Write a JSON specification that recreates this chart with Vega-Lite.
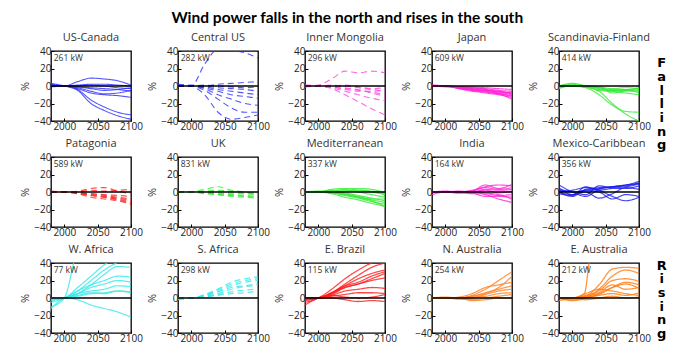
{
"$schema": "https://vega.github.io/schema/vega-lite/v6.json",
"title": {"text": "Wind power falls in the north and rises in the south", "font": "Lato", "fontSize": 15.5, "fontWeight": "bold", "color": "#000", "anchor": "middle", "offset": 5, "dx": 4},
"padding": {"left": 19, "top": 10, "right": 5, "bottom": 5},
"datasets": {
"panels": [
{"p":1,"n":"US-Canada","kw":"261 kW"},
{"p":2,"n":"Central US","kw":"282 kW"},
{"p":3,"n":"Inner Mongolia","kw":"296 kW"},
{"p":4,"n":"Japan","kw":"609 kW"},
{"p":5,"n":"Scandinavia-Finland","kw":"414 kW"},
{"p":6,"n":"Patagonia","kw":"589 kW"},
{"p":7,"n":"UK","kw":"831 kW"},
{"p":8,"n":"Mediterranean","kw":"337 kW"},
{"p":9,"n":"India","kw":"164 kW"},
{"p":10,"n":"Mexico-Caribbean","kw":"356 kW"},
{"p":11,"n":"W. Africa","kw":"77 kW"},
{"p":12,"n":"S. Africa","kw":"298 kW"},
{"p":13,"n":"E. Brazil","kw":"115 kW"},
{"p":14,"n":"N. Australia","kw":"254 kW"},
{"p":15,"n":"E. Australia","kw":"212 kW"}
],
"pts": [
{"p":1,"l":1,"x":1980,"y":2},{"p":1,"l":1,"x":2000,"y":0},{"p":1,"l":1,"x":2020,"y":5},{"p":1,"l":1,"x":2040,"y":9},{"p":1,"l":1,"x":2060,"y":8},{"p":1,"l":1,"x":2080,"y":6},{"p":1,"l":1,"x":2100,"y":1},
{"p":1,"l":2,"x":1980,"y":3},{"p":1,"l":2,"x":2000,"y":0},{"p":1,"l":2,"x":2020,"y":-5},{"p":1,"l":2,"x":2040,"y":-20},{"p":1,"l":2,"x":2060,"y":-28},{"p":1,"l":2,"x":2080,"y":-34},{"p":1,"l":2,"x":2100,"y":-38},
{"p":1,"l":3,"x":1980,"y":1},{"p":1,"l":3,"x":2000,"y":0},{"p":1,"l":3,"x":2020,"y":-4},{"p":1,"l":3,"x":2040,"y":-16},{"p":1,"l":3,"x":2060,"y":-24},{"p":1,"l":3,"x":2080,"y":-30},{"p":1,"l":3,"x":2100,"y":-33},
{"p":1,"l":4,"x":1980,"y":0},{"p":1,"l":4,"x":2000,"y":0},{"p":1,"l":4,"x":2020,"y":-3},{"p":1,"l":4,"x":2040,"y":-8},{"p":1,"l":4,"x":2060,"y":-10},{"p":1,"l":4,"x":2080,"y":-11},{"p":1,"l":4,"x":2100,"y":-13},
{"p":1,"l":5,"x":1980,"y":0},{"p":1,"l":5,"x":2000,"y":0},{"p":1,"l":5,"x":2020,"y":-2},{"p":1,"l":5,"x":2040,"y":-6},{"p":1,"l":5,"x":2060,"y":-9},{"p":1,"l":5,"x":2080,"y":-8},{"p":1,"l":5,"x":2100,"y":-5},
{"p":1,"l":6,"x":1980,"y":1},{"p":1,"l":6,"x":2000,"y":0},{"p":1,"l":6,"x":2020,"y":-1},{"p":1,"l":6,"x":2040,"y":-2},{"p":1,"l":6,"x":2060,"y":-3},{"p":1,"l":6,"x":2080,"y":-4},{"p":1,"l":6,"x":2100,"y":-6},
{"p":1,"l":7,"x":1980,"y":0},{"p":1,"l":7,"x":2000,"y":0},{"p":1,"l":7,"x":2020,"y":0},{"p":1,"l":7,"x":2040,"y":1},{"p":1,"l":7,"x":2060,"y":0},{"p":1,"l":7,"x":2080,"y":-2},{"p":1,"l":7,"x":2100,"y":-3},
{"p":1,"l":8,"x":1980,"y":-1},{"p":1,"l":8,"x":2000,"y":0},{"p":1,"l":8,"x":2020,"y":1},{"p":1,"l":8,"x":2040,"y":2},{"p":1,"l":8,"x":2060,"y":2},{"p":1,"l":8,"x":2080,"y":1},{"p":1,"l":8,"x":2100,"y":0},
{"p":1,"l":9,"x":1980,"y":0},{"p":1,"l":9,"x":2000,"y":0},{"p":1,"l":9,"x":2020,"y":-1},{"p":1,"l":9,"x":2040,"y":-3},{"p":1,"l":9,"x":2060,"y":-5},{"p":1,"l":9,"x":2080,"y":-4},{"p":1,"l":9,"x":2100,"y":-2},
{"p":2,"l":1,"x":1980,"y":0},{"p":2,"l":1,"x":2000,"y":0},{"p":2,"l":1,"x":2020,"y":25},{"p":2,"l":1,"x":2040,"y":42},{"p":2,"l":1,"x":2060,"y":41},{"p":2,"l":1,"x":2080,"y":38},{"p":2,"l":1,"x":2100,"y":32},
{"p":2,"l":2,"x":1980,"y":2},{"p":2,"l":2,"x":2000,"y":0},{"p":2,"l":2,"x":2020,"y":-10},{"p":2,"l":2,"x":2040,"y":-30},{"p":2,"l":2,"x":2060,"y":-38},{"p":2,"l":2,"x":2080,"y":-36},{"p":2,"l":2,"x":2100,"y":-33},
{"p":2,"l":3,"x":1980,"y":1},{"p":2,"l":3,"x":2000,"y":0},{"p":2,"l":3,"x":2020,"y":-5},{"p":2,"l":3,"x":2040,"y":-15},{"p":2,"l":3,"x":2060,"y":-25},{"p":2,"l":3,"x":2080,"y":-30},{"p":2,"l":3,"x":2100,"y":-30},
{"p":2,"l":4,"x":1980,"y":0},{"p":2,"l":4,"x":2000,"y":0},{"p":2,"l":4,"x":2020,"y":-3},{"p":2,"l":4,"x":2040,"y":-10},{"p":2,"l":4,"x":2060,"y":-15},{"p":2,"l":4,"x":2080,"y":-20},{"p":2,"l":4,"x":2100,"y":-22},
{"p":2,"l":5,"x":1980,"y":0},{"p":2,"l":5,"x":2000,"y":0},{"p":2,"l":5,"x":2020,"y":-2},{"p":2,"l":5,"x":2040,"y":-6},{"p":2,"l":5,"x":2060,"y":-10},{"p":2,"l":5,"x":2080,"y":-12},{"p":2,"l":5,"x":2100,"y":-14},
{"p":2,"l":6,"x":1980,"y":1},{"p":2,"l":6,"x":2000,"y":0},{"p":2,"l":6,"x":2020,"y":-1},{"p":2,"l":6,"x":2040,"y":-4},{"p":2,"l":6,"x":2060,"y":-6},{"p":2,"l":6,"x":2080,"y":-8},{"p":2,"l":6,"x":2100,"y":-10},
{"p":2,"l":7,"x":1980,"y":0},{"p":2,"l":7,"x":2000,"y":0},{"p":2,"l":7,"x":2020,"y":0},{"p":2,"l":7,"x":2040,"y":-2},{"p":2,"l":7,"x":2060,"y":-3},{"p":2,"l":7,"x":2080,"y":-4},{"p":2,"l":7,"x":2100,"y":-6},
{"p":2,"l":8,"x":1980,"y":0},{"p":2,"l":8,"x":2000,"y":0},{"p":2,"l":8,"x":2020,"y":1},{"p":2,"l":8,"x":2040,"y":0},{"p":2,"l":8,"x":2060,"y":-1},{"p":2,"l":8,"x":2080,"y":-2},{"p":2,"l":8,"x":2100,"y":-1},
{"p":2,"l":9,"x":1980,"y":0},{"p":2,"l":9,"x":2000,"y":1},{"p":2,"l":9,"x":2020,"y":0},{"p":2,"l":9,"x":2040,"y":2},{"p":2,"l":9,"x":2060,"y":3},{"p":2,"l":9,"x":2080,"y":4},{"p":2,"l":9,"x":2100,"y":5},
{"p":3,"l":1,"x":1980,"y":0},{"p":3,"l":1,"x":2000,"y":1},{"p":3,"l":1,"x":2020,"y":8},{"p":3,"l":1,"x":2040,"y":17},{"p":3,"l":1,"x":2060,"y":15},{"p":3,"l":1,"x":2080,"y":17},{"p":3,"l":1,"x":2100,"y":15},
{"p":3,"l":2,"x":1980,"y":1},{"p":3,"l":2,"x":2000,"y":0},{"p":3,"l":2,"x":2020,"y":-3},{"p":3,"l":2,"x":2040,"y":-10},{"p":3,"l":2,"x":2060,"y":-18},{"p":3,"l":2,"x":2080,"y":-26},{"p":3,"l":2,"x":2100,"y":-33},
{"p":3,"l":3,"x":1980,"y":0},{"p":3,"l":3,"x":2000,"y":0},{"p":3,"l":3,"x":2020,"y":-2},{"p":3,"l":3,"x":2040,"y":-6},{"p":3,"l":3,"x":2060,"y":-10},{"p":3,"l":3,"x":2080,"y":-14},{"p":3,"l":3,"x":2100,"y":-17},
{"p":3,"l":4,"x":1980,"y":0},{"p":3,"l":4,"x":2000,"y":0},{"p":3,"l":4,"x":2020,"y":0},{"p":3,"l":4,"x":2040,"y":-2},{"p":3,"l":4,"x":2060,"y":-5},{"p":3,"l":4,"x":2080,"y":-7},{"p":3,"l":4,"x":2100,"y":-10},
{"p":3,"l":5,"x":1980,"y":1},{"p":3,"l":5,"x":2000,"y":0},{"p":3,"l":5,"x":2020,"y":-1},{"p":3,"l":5,"x":2040,"y":-4},{"p":3,"l":5,"x":2060,"y":-6},{"p":3,"l":5,"x":2080,"y":-6},{"p":3,"l":5,"x":2100,"y":-5},
{"p":3,"l":6,"x":1980,"y":0},{"p":3,"l":6,"x":2000,"y":0},{"p":3,"l":6,"x":2020,"y":1},{"p":3,"l":6,"x":2040,"y":0},{"p":3,"l":6,"x":2060,"y":-2},{"p":3,"l":6,"x":2080,"y":-4},{"p":3,"l":6,"x":2100,"y":-6},
{"p":3,"l":7,"x":1980,"y":-1},{"p":3,"l":7,"x":2000,"y":0},{"p":3,"l":7,"x":2020,"y":0},{"p":3,"l":7,"x":2040,"y":1},{"p":3,"l":7,"x":2060,"y":-1},{"p":3,"l":7,"x":2080,"y":-3},{"p":3,"l":7,"x":2100,"y":-2},
{"p":3,"l":8,"x":1980,"y":0},{"p":3,"l":8,"x":2000,"y":0},{"p":3,"l":8,"x":2020,"y":-1},{"p":3,"l":8,"x":2040,"y":-3},{"p":3,"l":8,"x":2060,"y":-4},{"p":3,"l":8,"x":2080,"y":-8},{"p":3,"l":8,"x":2100,"y":-12},
{"p":4,"l":1,"x":1980,"y":0},{"p":4,"l":1,"x":2000,"y":0},{"p":4,"l":1,"x":2020,"y":-3},{"p":4,"l":1,"x":2040,"y":-5},{"p":4,"l":1,"x":2060,"y":-8},{"p":4,"l":1,"x":2080,"y":-10},{"p":4,"l":1,"x":2100,"y":-13},
{"p":4,"l":2,"x":1980,"y":0},{"p":4,"l":2,"x":2000,"y":0},{"p":4,"l":2,"x":2020,"y":-2},{"p":4,"l":2,"x":2040,"y":-4},{"p":4,"l":2,"x":2060,"y":-6},{"p":4,"l":2,"x":2080,"y":-9},{"p":4,"l":2,"x":2100,"y":-15},
{"p":4,"l":3,"x":1980,"y":0},{"p":4,"l":3,"x":2000,"y":0},{"p":4,"l":3,"x":2020,"y":-1},{"p":4,"l":3,"x":2040,"y":-3},{"p":4,"l":3,"x":2060,"y":-5},{"p":4,"l":3,"x":2080,"y":-6},{"p":4,"l":3,"x":2100,"y":-8},
{"p":4,"l":4,"x":1980,"y":0},{"p":4,"l":4,"x":2000,"y":0},{"p":4,"l":4,"x":2020,"y":-2},{"p":4,"l":4,"x":2040,"y":-3},{"p":4,"l":4,"x":2060,"y":-4},{"p":4,"l":4,"x":2080,"y":-7},{"p":4,"l":4,"x":2100,"y":-10},
{"p":4,"l":5,"x":1980,"y":1},{"p":4,"l":5,"x":2000,"y":0},{"p":4,"l":5,"x":2020,"y":-1},{"p":4,"l":5,"x":2040,"y":-2},{"p":4,"l":5,"x":2060,"y":-3},{"p":4,"l":5,"x":2080,"y":-5},{"p":4,"l":5,"x":2100,"y":-6},
{"p":4,"l":6,"x":1980,"y":0},{"p":4,"l":6,"x":2000,"y":0},{"p":4,"l":6,"x":2020,"y":-3},{"p":4,"l":6,"x":2040,"y":-6},{"p":4,"l":6,"x":2060,"y":-7},{"p":4,"l":6,"x":2080,"y":-9},{"p":4,"l":6,"x":2100,"y":-11},
{"p":4,"l":7,"x":1980,"y":0},{"p":4,"l":7,"x":2000,"y":0},{"p":4,"l":7,"x":2020,"y":-1},{"p":4,"l":7,"x":2040,"y":-2},{"p":4,"l":7,"x":2060,"y":-4},{"p":4,"l":7,"x":2080,"y":-8},{"p":4,"l":7,"x":2100,"y":-12},
{"p":4,"l":8,"x":1980,"y":0},{"p":4,"l":8,"x":2000,"y":-1},{"p":4,"l":8,"x":2020,"y":-2},{"p":4,"l":8,"x":2040,"y":-4},{"p":4,"l":8,"x":2060,"y":-5},{"p":4,"l":8,"x":2080,"y":-6},{"p":4,"l":8,"x":2100,"y":-9},
{"p":4,"l":9,"x":1980,"y":0},{"p":4,"l":9,"x":2000,"y":0},{"p":4,"l":9,"x":2020,"y":-1},{"p":4,"l":9,"x":2040,"y":-1},{"p":4,"l":9,"x":2060,"y":-2},{"p":4,"l":9,"x":2080,"y":-3},{"p":4,"l":9,"x":2100,"y":-4},
{"p":4,"l":10,"x":1980,"y":1},{"p":4,"l":10,"x":2000,"y":0},{"p":4,"l":10,"x":2020,"y":-2},{"p":4,"l":10,"x":2040,"y":-5},{"p":4,"l":10,"x":2060,"y":-6},{"p":4,"l":10,"x":2080,"y":-8},{"p":4,"l":10,"x":2100,"y":-7},
{"p":5,"l":1,"x":1980,"y":0},{"p":5,"l":1,"x":2000,"y":2},{"p":5,"l":1,"x":2020,"y":-1},{"p":5,"l":1,"x":2040,"y":-6},{"p":5,"l":1,"x":2060,"y":-20},{"p":5,"l":1,"x":2080,"y":-32},{"p":5,"l":1,"x":2100,"y":-40},
{"p":5,"l":2,"x":1980,"y":0},{"p":5,"l":2,"x":2000,"y":0},{"p":5,"l":2,"x":2020,"y":-2},{"p":5,"l":2,"x":2040,"y":-10},{"p":5,"l":2,"x":2060,"y":-22},{"p":5,"l":2,"x":2080,"y":-29},{"p":5,"l":2,"x":2100,"y":-30},
{"p":5,"l":3,"x":1980,"y":0},{"p":5,"l":3,"x":2000,"y":0},{"p":5,"l":3,"x":2020,"y":0},{"p":5,"l":3,"x":2040,"y":-3},{"p":5,"l":3,"x":2060,"y":-6},{"p":5,"l":3,"x":2080,"y":-8},{"p":5,"l":3,"x":2100,"y":-10},
{"p":5,"l":4,"x":1980,"y":-3},{"p":5,"l":4,"x":2000,"y":1},{"p":5,"l":4,"x":2020,"y":0},{"p":5,"l":4,"x":2040,"y":-2},{"p":5,"l":4,"x":2060,"y":-5},{"p":5,"l":4,"x":2080,"y":-5},{"p":5,"l":4,"x":2100,"y":-4},
{"p":5,"l":5,"x":1980,"y":0},{"p":5,"l":5,"x":2000,"y":0},{"p":5,"l":5,"x":2020,"y":-1},{"p":5,"l":5,"x":2040,"y":-4},{"p":5,"l":5,"x":2060,"y":-5},{"p":5,"l":5,"x":2080,"y":-6},{"p":5,"l":5,"x":2100,"y":-6},
{"p":5,"l":6,"x":1980,"y":0},{"p":5,"l":6,"x":2000,"y":0},{"p":5,"l":6,"x":2020,"y":0},{"p":5,"l":6,"x":2040,"y":-1},{"p":5,"l":6,"x":2060,"y":-3},{"p":5,"l":6,"x":2080,"y":-2},{"p":5,"l":6,"x":2100,"y":-3},
{"p":5,"l":7,"x":1980,"y":-2},{"p":5,"l":7,"x":2000,"y":0},{"p":5,"l":7,"x":2020,"y":-1},{"p":5,"l":7,"x":2040,"y":-2},{"p":5,"l":7,"x":2060,"y":-4},{"p":5,"l":7,"x":2080,"y":-4},{"p":5,"l":7,"x":2100,"y":-8},
{"p":5,"l":8,"x":1980,"y":0},{"p":5,"l":8,"x":2000,"y":3},{"p":5,"l":8,"x":2020,"y":0},{"p":5,"l":8,"x":2040,"y":-5},{"p":5,"l":8,"x":2060,"y":-6},{"p":5,"l":8,"x":2080,"y":-4},{"p":5,"l":8,"x":2100,"y":-5},
{"p":5,"l":9,"x":1980,"y":0},{"p":5,"l":9,"x":2000,"y":0},{"p":5,"l":9,"x":2020,"y":0},{"p":5,"l":9,"x":2040,"y":-1},{"p":5,"l":9,"x":2060,"y":-8},{"p":5,"l":9,"x":2080,"y":-5},{"p":5,"l":9,"x":2100,"y":-2},
{"p":6,"l":1,"x":1980,"y":0},{"p":6,"l":1,"x":2000,"y":0},{"p":6,"l":1,"x":2020,"y":-2},{"p":6,"l":1,"x":2040,"y":-4},{"p":6,"l":1,"x":2060,"y":-6},{"p":6,"l":1,"x":2080,"y":-8},{"p":6,"l":1,"x":2100,"y":-12},
{"p":6,"l":2,"x":1980,"y":0},{"p":6,"l":2,"x":2000,"y":0},{"p":6,"l":2,"x":2020,"y":-1},{"p":6,"l":2,"x":2040,"y":-2},{"p":6,"l":2,"x":2060,"y":-4},{"p":6,"l":2,"x":2080,"y":-6},{"p":6,"l":2,"x":2100,"y":-8},
{"p":6,"l":3,"x":1980,"y":0},{"p":6,"l":3,"x":2000,"y":0},{"p":6,"l":3,"x":2020,"y":1},{"p":6,"l":3,"x":2040,"y":4},{"p":6,"l":3,"x":2060,"y":5},{"p":6,"l":3,"x":2080,"y":1},{"p":6,"l":3,"x":2100,"y":-2},
{"p":6,"l":4,"x":1980,"y":0},{"p":6,"l":4,"x":2000,"y":0},{"p":6,"l":4,"x":2020,"y":-2},{"p":6,"l":4,"x":2040,"y":-6},{"p":6,"l":4,"x":2060,"y":-8},{"p":6,"l":4,"x":2080,"y":-10},{"p":6,"l":4,"x":2100,"y":-14},
{"p":6,"l":5,"x":1980,"y":0},{"p":6,"l":5,"x":2000,"y":0},{"p":6,"l":5,"x":2020,"y":-1},{"p":6,"l":5,"x":2040,"y":-3},{"p":6,"l":5,"x":2060,"y":-5},{"p":6,"l":5,"x":2080,"y":-7},{"p":6,"l":5,"x":2100,"y":-10},
{"p":6,"l":6,"x":1980,"y":1},{"p":6,"l":6,"x":2000,"y":0},{"p":6,"l":6,"x":2020,"y":-1},{"p":6,"l":6,"x":2040,"y":-2},{"p":6,"l":6,"x":2060,"y":-3},{"p":6,"l":6,"x":2080,"y":-4},{"p":6,"l":6,"x":2100,"y":-5},
{"p":6,"l":7,"x":1980,"y":0},{"p":6,"l":7,"x":2000,"y":0},{"p":6,"l":7,"x":2020,"y":0},{"p":6,"l":7,"x":2040,"y":2},{"p":6,"l":7,"x":2060,"y":1},{"p":6,"l":7,"x":2080,"y":2},{"p":6,"l":7,"x":2100,"y":3},
{"p":6,"l":8,"x":1980,"y":0},{"p":6,"l":8,"x":2000,"y":0},{"p":6,"l":8,"x":2020,"y":-1},{"p":6,"l":8,"x":2040,"y":-4},{"p":6,"l":8,"x":2060,"y":-6},{"p":6,"l":8,"x":2080,"y":-9},{"p":6,"l":8,"x":2100,"y":-13},
{"p":7,"l":1,"x":1980,"y":0},{"p":7,"l":1,"x":2000,"y":0},{"p":7,"l":1,"x":2020,"y":3},{"p":7,"l":1,"x":2040,"y":6},{"p":7,"l":1,"x":2060,"y":2},{"p":7,"l":1,"x":2080,"y":0},{"p":7,"l":1,"x":2100,"y":-2},
{"p":7,"l":2,"x":1980,"y":0},{"p":7,"l":2,"x":2000,"y":0},{"p":7,"l":2,"x":2020,"y":-1},{"p":7,"l":2,"x":2040,"y":-3},{"p":7,"l":2,"x":2060,"y":-4},{"p":7,"l":2,"x":2080,"y":-5},{"p":7,"l":2,"x":2100,"y":-6},
{"p":7,"l":3,"x":1980,"y":0},{"p":7,"l":3,"x":2000,"y":0},{"p":7,"l":3,"x":2020,"y":-1},{"p":7,"l":3,"x":2040,"y":-2},{"p":7,"l":3,"x":2060,"y":-3},{"p":7,"l":3,"x":2080,"y":-4},{"p":7,"l":3,"x":2100,"y":-5},
{"p":7,"l":4,"x":1980,"y":0},{"p":7,"l":4,"x":2000,"y":0},{"p":7,"l":4,"x":2020,"y":0},{"p":7,"l":4,"x":2040,"y":-1},{"p":7,"l":4,"x":2060,"y":-2},{"p":7,"l":4,"x":2080,"y":-2},{"p":7,"l":4,"x":2100,"y":-3},
{"p":7,"l":5,"x":1980,"y":0},{"p":7,"l":5,"x":2000,"y":0},{"p":7,"l":5,"x":2020,"y":0},{"p":7,"l":5,"x":2040,"y":1},{"p":7,"l":5,"x":2060,"y":0},{"p":7,"l":5,"x":2080,"y":-1},{"p":7,"l":5,"x":2100,"y":-1},
{"p":7,"l":6,"x":1980,"y":0},{"p":7,"l":6,"x":2000,"y":0},{"p":7,"l":6,"x":2020,"y":-2},{"p":7,"l":6,"x":2040,"y":-3},{"p":7,"l":6,"x":2060,"y":-5},{"p":7,"l":6,"x":2080,"y":-6},{"p":7,"l":6,"x":2100,"y":-7},
{"p":7,"l":7,"x":1980,"y":0},{"p":7,"l":7,"x":2000,"y":0},{"p":7,"l":7,"x":2020,"y":1},{"p":7,"l":7,"x":2040,"y":2},{"p":7,"l":7,"x":2060,"y":1},{"p":7,"l":7,"x":2080,"y":0},{"p":7,"l":7,"x":2100,"y":-4},
{"p":8,"l":1,"x":1980,"y":0},{"p":8,"l":1,"x":2000,"y":0},{"p":8,"l":1,"x":2020,"y":3},{"p":8,"l":1,"x":2040,"y":4},{"p":8,"l":1,"x":2060,"y":2},{"p":8,"l":1,"x":2080,"y":1},{"p":8,"l":1,"x":2100,"y":-2},
{"p":8,"l":2,"x":1980,"y":0},{"p":8,"l":2,"x":2000,"y":0},{"p":8,"l":2,"x":2020,"y":1},{"p":8,"l":2,"x":2040,"y":3},{"p":8,"l":2,"x":2060,"y":4},{"p":8,"l":2,"x":2080,"y":3},{"p":8,"l":2,"x":2100,"y":-1},
{"p":8,"l":3,"x":1980,"y":0},{"p":8,"l":3,"x":2000,"y":0},{"p":8,"l":3,"x":2020,"y":-2},{"p":8,"l":3,"x":2040,"y":-6},{"p":8,"l":3,"x":2060,"y":-9},{"p":8,"l":3,"x":2080,"y":-13},{"p":8,"l":3,"x":2100,"y":-16},
{"p":8,"l":4,"x":1980,"y":0},{"p":8,"l":4,"x":2000,"y":0},{"p":8,"l":4,"x":2020,"y":-1},{"p":8,"l":4,"x":2040,"y":-4},{"p":8,"l":4,"x":2060,"y":-7},{"p":8,"l":4,"x":2080,"y":-11},{"p":8,"l":4,"x":2100,"y":-14},
{"p":8,"l":5,"x":1980,"y":0},{"p":8,"l":5,"x":2000,"y":0},{"p":8,"l":5,"x":2020,"y":0},{"p":8,"l":5,"x":2040,"y":-3},{"p":8,"l":5,"x":2060,"y":-6},{"p":8,"l":5,"x":2080,"y":-9},{"p":8,"l":5,"x":2100,"y":-12},
{"p":8,"l":6,"x":1980,"y":0},{"p":8,"l":6,"x":2000,"y":1},{"p":8,"l":6,"x":2020,"y":1},{"p":8,"l":6,"x":2040,"y":-1},{"p":8,"l":6,"x":2060,"y":-4},{"p":8,"l":6,"x":2080,"y":-7},{"p":8,"l":6,"x":2100,"y":-10},
{"p":8,"l":7,"x":1980,"y":0},{"p":8,"l":7,"x":2000,"y":0},{"p":8,"l":7,"x":2020,"y":-1},{"p":8,"l":7,"x":2040,"y":-2},{"p":8,"l":7,"x":2060,"y":-5},{"p":8,"l":7,"x":2080,"y":-8},{"p":8,"l":7,"x":2100,"y":-8},
{"p":8,"l":8,"x":1980,"y":0},{"p":8,"l":8,"x":2000,"y":0},{"p":8,"l":8,"x":2020,"y":2},{"p":8,"l":8,"x":2040,"y":2},{"p":8,"l":8,"x":2060,"y":0},{"p":8,"l":8,"x":2080,"y":-3},{"p":8,"l":8,"x":2100,"y":-6},
{"p":8,"l":9,"x":1980,"y":0},{"p":8,"l":9,"x":2000,"y":0},{"p":8,"l":9,"x":2020,"y":0},{"p":8,"l":9,"x":2040,"y":1},{"p":8,"l":9,"x":2060,"y":2},{"p":8,"l":9,"x":2080,"y":0},{"p":8,"l":9,"x":2100,"y":-3},
{"p":8,"l":10,"x":1980,"y":0},{"p":8,"l":10,"x":2000,"y":0},{"p":8,"l":10,"x":2020,"y":-1},{"p":8,"l":10,"x":2040,"y":-3},{"p":8,"l":10,"x":2060,"y":-6},{"p":8,"l":10,"x":2080,"y":-10},{"p":8,"l":10,"x":2100,"y":-17},
{"p":9,"l":1,"x":1980,"y":0},{"p":9,"l":1,"x":2000,"y":0},{"p":9,"l":1,"x":2020,"y":0},{"p":9,"l":1,"x":2040,"y":1},{"p":9,"l":1,"x":2060,"y":6},{"p":9,"l":1,"x":2080,"y":8},{"p":9,"l":1,"x":2100,"y":7},
{"p":9,"l":2,"x":1980,"y":0},{"p":9,"l":2,"x":2000,"y":0},{"p":9,"l":2,"x":2020,"y":0},{"p":9,"l":2,"x":2040,"y":2},{"p":9,"l":2,"x":2060,"y":5},{"p":9,"l":2,"x":2080,"y":3},{"p":9,"l":2,"x":2100,"y":5},
{"p":9,"l":3,"x":1980,"y":0},{"p":9,"l":3,"x":2000,"y":0},{"p":9,"l":3,"x":2020,"y":-1},{"p":9,"l":3,"x":2040,"y":0},{"p":9,"l":3,"x":2060,"y":-3},{"p":9,"l":3,"x":2080,"y":-8},{"p":9,"l":3,"x":2100,"y":-12},
{"p":9,"l":4,"x":1980,"y":0},{"p":9,"l":4,"x":2000,"y":0},{"p":9,"l":4,"x":2020,"y":0},{"p":9,"l":4,"x":2040,"y":-1},{"p":9,"l":4,"x":2060,"y":-5},{"p":9,"l":4,"x":2080,"y":-5},{"p":9,"l":4,"x":2100,"y":-6},
{"p":9,"l":5,"x":1980,"y":0},{"p":9,"l":5,"x":2000,"y":0},{"p":9,"l":5,"x":2020,"y":1},{"p":9,"l":5,"x":2040,"y":0},{"p":9,"l":5,"x":2060,"y":3},{"p":9,"l":5,"x":2080,"y":2},{"p":9,"l":5,"x":2100,"y":3},
{"p":9,"l":6,"x":1980,"y":0},{"p":9,"l":6,"x":2000,"y":0},{"p":9,"l":6,"x":2020,"y":0},{"p":9,"l":6,"x":2040,"y":-2},{"p":9,"l":6,"x":2060,"y":-2},{"p":9,"l":6,"x":2080,"y":-4},{"p":9,"l":6,"x":2100,"y":-3},
{"p":9,"l":7,"x":1980,"y":0},{"p":9,"l":7,"x":2000,"y":1},{"p":9,"l":7,"x":2020,"y":0},{"p":9,"l":7,"x":2040,"y":1},{"p":9,"l":7,"x":2060,"y":8},{"p":9,"l":7,"x":2080,"y":4},{"p":9,"l":7,"x":2100,"y":9},
{"p":9,"l":8,"x":1980,"y":0},{"p":9,"l":8,"x":2000,"y":0},{"p":9,"l":8,"x":2020,"y":-1},{"p":9,"l":8,"x":2040,"y":-1},{"p":9,"l":8,"x":2060,"y":2},{"p":9,"l":8,"x":2080,"y":-1},{"p":9,"l":8,"x":2100,"y":1},
{"p":9,"l":9,"x":1980,"y":-3},{"p":9,"l":9,"x":2000,"y":0},{"p":9,"l":9,"x":2020,"y":0},{"p":9,"l":9,"x":2040,"y":0},{"p":9,"l":9,"x":2060,"y":-1},{"p":9,"l":9,"x":2080,"y":-3},{"p":9,"l":9,"x":2100,"y":-8},
{"p":10,"l":1,"x":1980,"y":8},{"p":10,"l":1,"x":2000,"y":0},{"p":10,"l":1,"x":2020,"y":-5},{"p":10,"l":1,"x":2040,"y":3},{"p":10,"l":1,"x":2060,"y":6},{"p":10,"l":1,"x":2080,"y":8},{"p":10,"l":1,"x":2100,"y":10},
{"p":10,"l":2,"x":1980,"y":5},{"p":10,"l":2,"x":2000,"y":-3},{"p":10,"l":2,"x":2020,"y":2},{"p":10,"l":2,"x":2040,"y":0},{"p":10,"l":2,"x":2060,"y":-8},{"p":10,"l":2,"x":2080,"y":-3},{"p":10,"l":2,"x":2100,"y":-5},
{"p":10,"l":3,"x":1980,"y":0},{"p":10,"l":3,"x":2000,"y":-5},{"p":10,"l":3,"x":2020,"y":3},{"p":10,"l":3,"x":2040,"y":5},{"p":10,"l":3,"x":2060,"y":6},{"p":10,"l":3,"x":2080,"y":8},{"p":10,"l":3,"x":2100,"y":12},
{"p":10,"l":4,"x":1980,"y":0},{"p":10,"l":4,"x":2000,"y":2},{"p":10,"l":4,"x":2020,"y":5},{"p":10,"l":4,"x":2040,"y":2},{"p":10,"l":4,"x":2060,"y":-5},{"p":10,"l":4,"x":2080,"y":-10},{"p":10,"l":4,"x":2100,"y":-6},
{"p":10,"l":5,"x":1980,"y":3},{"p":10,"l":5,"x":2000,"y":0},{"p":10,"l":5,"x":2020,"y":-3},{"p":10,"l":5,"x":2040,"y":7},{"p":10,"l":5,"x":2060,"y":5},{"p":10,"l":5,"x":2080,"y":6},{"p":10,"l":5,"x":2100,"y":9},
{"p":10,"l":6,"x":1980,"y":-2},{"p":10,"l":6,"x":2000,"y":-4},{"p":10,"l":6,"x":2020,"y":6},{"p":10,"l":6,"x":2040,"y":2},{"p":10,"l":6,"x":2060,"y":4},{"p":10,"l":6,"x":2080,"y":4},{"p":10,"l":6,"x":2100,"y":7},
{"p":10,"l":7,"x":1980,"y":0},{"p":10,"l":7,"x":2000,"y":-3},{"p":10,"l":7,"x":2020,"y":0},{"p":10,"l":7,"x":2040,"y":-7},{"p":10,"l":7,"x":2060,"y":-2},{"p":10,"l":7,"x":2080,"y":5},{"p":10,"l":7,"x":2100,"y":3},
{"p":10,"l":8,"x":1980,"y":2},{"p":10,"l":8,"x":2000,"y":0},{"p":10,"l":8,"x":2020,"y":2},{"p":10,"l":8,"x":2040,"y":4},{"p":10,"l":8,"x":2060,"y":6},{"p":10,"l":8,"x":2080,"y":7},{"p":10,"l":8,"x":2100,"y":10},
{"p":11,"l":1,"x":1980,"y":-10},{"p":11,"l":1,"x":2000,"y":0},{"p":11,"l":1,"x":2014,"y":40},{"p":11,"l":1,"x":2020,"y":60},
{"p":11,"l":2,"x":1980,"y":-2},{"p":11,"l":2,"x":2000,"y":0},{"p":11,"l":2,"x":2020,"y":12},{"p":11,"l":2,"x":2040,"y":25},{"p":11,"l":2,"x":2060,"y":38},{"p":11,"l":2,"x":2080,"y":48},{"p":11,"l":2,"x":2100,"y":55},
{"p":11,"l":3,"x":1980,"y":0},{"p":11,"l":3,"x":2000,"y":0},{"p":11,"l":3,"x":2020,"y":8},{"p":11,"l":3,"x":2040,"y":20},{"p":11,"l":3,"x":2060,"y":32},{"p":11,"l":3,"x":2080,"y":41},{"p":11,"l":3,"x":2100,"y":50},
{"p":11,"l":4,"x":1980,"y":0},{"p":11,"l":4,"x":2000,"y":0},{"p":11,"l":4,"x":2020,"y":5},{"p":11,"l":4,"x":2040,"y":15},{"p":11,"l":4,"x":2060,"y":27},{"p":11,"l":4,"x":2080,"y":36},{"p":11,"l":4,"x":2100,"y":35},
{"p":11,"l":5,"x":1980,"y":-5},{"p":11,"l":5,"x":2000,"y":0},{"p":11,"l":5,"x":2020,"y":8},{"p":11,"l":5,"x":2040,"y":15},{"p":11,"l":5,"x":2060,"y":20},{"p":11,"l":5,"x":2080,"y":25},{"p":11,"l":5,"x":2100,"y":24},
{"p":11,"l":6,"x":1980,"y":0},{"p":11,"l":6,"x":2000,"y":0},{"p":11,"l":6,"x":2020,"y":5},{"p":11,"l":6,"x":2040,"y":12},{"p":11,"l":6,"x":2060,"y":16},{"p":11,"l":6,"x":2080,"y":20},{"p":11,"l":6,"x":2100,"y":18},
{"p":11,"l":7,"x":1980,"y":-3},{"p":11,"l":7,"x":2000,"y":0},{"p":11,"l":7,"x":2020,"y":5},{"p":11,"l":7,"x":2040,"y":8},{"p":11,"l":7,"x":2060,"y":10},{"p":11,"l":7,"x":2080,"y":14},{"p":11,"l":7,"x":2100,"y":13},
{"p":11,"l":8,"x":1980,"y":-12},{"p":11,"l":8,"x":2000,"y":0},{"p":11,"l":8,"x":2020,"y":3},{"p":11,"l":8,"x":2040,"y":6},{"p":11,"l":8,"x":2060,"y":5},{"p":11,"l":8,"x":2080,"y":8},{"p":11,"l":8,"x":2100,"y":7},
{"p":11,"l":9,"x":1980,"y":0},{"p":11,"l":9,"x":2000,"y":0},{"p":11,"l":9,"x":2020,"y":2},{"p":11,"l":9,"x":2040,"y":5},{"p":11,"l":9,"x":2060,"y":6},{"p":11,"l":9,"x":2080,"y":8},{"p":11,"l":9,"x":2100,"y":6},
{"p":11,"l":10,"x":1980,"y":0},{"p":11,"l":10,"x":2000,"y":0},{"p":11,"l":10,"x":2020,"y":-2},{"p":11,"l":10,"x":2040,"y":-8},{"p":11,"l":10,"x":2060,"y":-12},{"p":11,"l":10,"x":2080,"y":-16},{"p":11,"l":10,"x":2100,"y":-22},
{"p":12,"l":1,"x":1980,"y":-2},{"p":12,"l":1,"x":2000,"y":0},{"p":12,"l":1,"x":2020,"y":3},{"p":12,"l":1,"x":2040,"y":10},{"p":12,"l":1,"x":2060,"y":18},{"p":12,"l":1,"x":2080,"y":22},{"p":12,"l":1,"x":2100,"y":24},
{"p":12,"l":2,"x":1980,"y":0},{"p":12,"l":2,"x":2000,"y":0},{"p":12,"l":2,"x":2020,"y":2},{"p":12,"l":2,"x":2040,"y":8},{"p":12,"l":2,"x":2060,"y":14},{"p":12,"l":2,"x":2080,"y":18},{"p":12,"l":2,"x":2100,"y":20},
{"p":12,"l":3,"x":1980,"y":0},{"p":12,"l":3,"x":2000,"y":0},{"p":12,"l":3,"x":2020,"y":4},{"p":12,"l":3,"x":2040,"y":10},{"p":12,"l":3,"x":2060,"y":16},{"p":12,"l":3,"x":2080,"y":20},{"p":12,"l":3,"x":2100,"y":22},
{"p":12,"l":4,"x":1980,"y":0},{"p":12,"l":4,"x":2000,"y":0},{"p":12,"l":4,"x":2020,"y":1},{"p":12,"l":4,"x":2040,"y":5},{"p":12,"l":4,"x":2060,"y":10},{"p":12,"l":4,"x":2080,"y":13},{"p":12,"l":4,"x":2100,"y":15},
{"p":12,"l":5,"x":1980,"y":-1},{"p":12,"l":5,"x":2000,"y":0},{"p":12,"l":5,"x":2020,"y":2},{"p":12,"l":5,"x":2040,"y":4},{"p":12,"l":5,"x":2060,"y":7},{"p":12,"l":5,"x":2080,"y":9},{"p":12,"l":5,"x":2100,"y":10},
{"p":12,"l":6,"x":1980,"y":0},{"p":12,"l":6,"x":2000,"y":0},{"p":12,"l":6,"x":2020,"y":3},{"p":12,"l":6,"x":2040,"y":7},{"p":12,"l":6,"x":2060,"y":12},{"p":12,"l":6,"x":2080,"y":14},{"p":12,"l":6,"x":2100,"y":16},
{"p":12,"l":7,"x":1980,"y":0},{"p":12,"l":7,"x":2000,"y":0},{"p":12,"l":7,"x":2020,"y":1},{"p":12,"l":7,"x":2040,"y":3},{"p":12,"l":7,"x":2060,"y":5},{"p":12,"l":7,"x":2080,"y":6},{"p":12,"l":7,"x":2100,"y":8},
{"p":13,"l":1,"x":1980,"y":-5},{"p":13,"l":1,"x":2000,"y":0},{"p":13,"l":1,"x":2020,"y":10},{"p":13,"l":1,"x":2040,"y":22},{"p":13,"l":1,"x":2060,"y":32},{"p":13,"l":1,"x":2080,"y":40},{"p":13,"l":1,"x":2100,"y":44},
{"p":13,"l":2,"x":1980,"y":-3},{"p":13,"l":2,"x":2000,"y":0},{"p":13,"l":2,"x":2020,"y":6},{"p":13,"l":2,"x":2040,"y":16},{"p":13,"l":2,"x":2060,"y":26},{"p":13,"l":2,"x":2080,"y":35},{"p":13,"l":2,"x":2100,"y":40},
{"p":13,"l":3,"x":1980,"y":0},{"p":13,"l":3,"x":2000,"y":0},{"p":13,"l":3,"x":2020,"y":5},{"p":13,"l":3,"x":2040,"y":14},{"p":13,"l":3,"x":2060,"y":22},{"p":13,"l":3,"x":2080,"y":28},{"p":13,"l":3,"x":2100,"y":32},
{"p":13,"l":4,"x":1980,"y":-2},{"p":13,"l":4,"x":2000,"y":0},{"p":13,"l":4,"x":2020,"y":6},{"p":13,"l":4,"x":2040,"y":14},{"p":13,"l":4,"x":2060,"y":18},{"p":13,"l":4,"x":2080,"y":25},{"p":13,"l":4,"x":2100,"y":30},
{"p":13,"l":5,"x":1980,"y":0},{"p":13,"l":5,"x":2000,"y":0},{"p":13,"l":5,"x":2020,"y":4},{"p":13,"l":5,"x":2040,"y":12},{"p":13,"l":5,"x":2060,"y":16},{"p":13,"l":5,"x":2080,"y":22},{"p":13,"l":5,"x":2100,"y":28},
{"p":13,"l":6,"x":1980,"y":0},{"p":13,"l":6,"x":2000,"y":0},{"p":13,"l":6,"x":2020,"y":6},{"p":13,"l":6,"x":2040,"y":12},{"p":13,"l":6,"x":2060,"y":16},{"p":13,"l":6,"x":2080,"y":20},{"p":13,"l":6,"x":2100,"y":23},
{"p":13,"l":7,"x":1980,"y":0},{"p":13,"l":7,"x":2000,"y":0},{"p":13,"l":7,"x":2020,"y":3},{"p":13,"l":7,"x":2040,"y":8},{"p":13,"l":7,"x":2060,"y":10},{"p":13,"l":7,"x":2080,"y":12},{"p":13,"l":7,"x":2100,"y":11},
{"p":13,"l":8,"x":1980,"y":0},{"p":13,"l":8,"x":2000,"y":0},{"p":13,"l":8,"x":2020,"y":2},{"p":13,"l":8,"x":2040,"y":4},{"p":13,"l":8,"x":2060,"y":6},{"p":13,"l":8,"x":2080,"y":6},{"p":13,"l":8,"x":2100,"y":5},
{"p":13,"l":9,"x":1980,"y":0},{"p":13,"l":9,"x":2000,"y":0},{"p":13,"l":9,"x":2020,"y":0},{"p":13,"l":9,"x":2040,"y":-2},{"p":13,"l":9,"x":2060,"y":-4},{"p":13,"l":9,"x":2080,"y":-3},{"p":13,"l":9,"x":2100,"y":-4},
{"p":13,"l":10,"x":1980,"y":-8},{"p":13,"l":10,"x":2000,"y":0},{"p":13,"l":10,"x":2020,"y":3},{"p":13,"l":10,"x":2040,"y":1},{"p":13,"l":10,"x":2060,"y":0},{"p":13,"l":10,"x":2080,"y":1},{"p":13,"l":10,"x":2100,"y":4},
{"p":14,"l":1,"x":1980,"y":0},{"p":14,"l":1,"x":2000,"y":0},{"p":14,"l":1,"x":2020,"y":0},{"p":14,"l":1,"x":2040,"y":3},{"p":14,"l":1,"x":2060,"y":10},{"p":14,"l":1,"x":2080,"y":20},{"p":14,"l":1,"x":2100,"y":30},
{"p":14,"l":2,"x":1980,"y":0},{"p":14,"l":2,"x":2000,"y":0},{"p":14,"l":2,"x":2020,"y":1},{"p":14,"l":2,"x":2040,"y":5},{"p":14,"l":2,"x":2060,"y":12},{"p":14,"l":2,"x":2080,"y":15},{"p":14,"l":2,"x":2100,"y":18},
{"p":14,"l":3,"x":1980,"y":0},{"p":14,"l":3,"x":2000,"y":0},{"p":14,"l":3,"x":2020,"y":0},{"p":14,"l":3,"x":2040,"y":2},{"p":14,"l":3,"x":2060,"y":6},{"p":14,"l":3,"x":2080,"y":10},{"p":14,"l":3,"x":2100,"y":14},
{"p":14,"l":4,"x":1980,"y":0},{"p":14,"l":4,"x":2000,"y":0},{"p":14,"l":4,"x":2020,"y":-1},{"p":14,"l":4,"x":2040,"y":0},{"p":14,"l":4,"x":2060,"y":4},{"p":14,"l":4,"x":2080,"y":8},{"p":14,"l":4,"x":2100,"y":10},
{"p":14,"l":5,"x":1980,"y":0},{"p":14,"l":5,"x":2000,"y":0},{"p":14,"l":5,"x":2020,"y":0},{"p":14,"l":5,"x":2040,"y":1},{"p":14,"l":5,"x":2060,"y":2},{"p":14,"l":5,"x":2080,"y":5},{"p":14,"l":5,"x":2100,"y":6},
{"p":14,"l":6,"x":1980,"y":0},{"p":14,"l":6,"x":2000,"y":0},{"p":14,"l":6,"x":2020,"y":-1},{"p":14,"l":6,"x":2040,"y":-2},{"p":14,"l":6,"x":2060,"y":0},{"p":14,"l":6,"x":2080,"y":2},{"p":14,"l":6,"x":2100,"y":4},
{"p":14,"l":7,"x":1980,"y":0},{"p":14,"l":7,"x":2000,"y":0},{"p":14,"l":7,"x":2020,"y":0},{"p":14,"l":7,"x":2040,"y":-3},{"p":14,"l":7,"x":2060,"y":-2},{"p":14,"l":7,"x":2080,"y":0},{"p":14,"l":7,"x":2100,"y":0},
{"p":14,"l":8,"x":1980,"y":0},{"p":14,"l":8,"x":2000,"y":1},{"p":14,"l":8,"x":2020,"y":0},{"p":14,"l":8,"x":2040,"y":2},{"p":14,"l":8,"x":2060,"y":5},{"p":14,"l":8,"x":2080,"y":12},{"p":14,"l":8,"x":2100,"y":25},
{"p":15,"l":1,"x":1980,"y":0},{"p":15,"l":1,"x":2000,"y":0},{"p":15,"l":1,"x":2018,"y":5},{"p":15,"l":1,"x":2025,"y":40},{"p":15,"l":1,"x":2030,"y":70},
{"p":15,"l":2,"x":1980,"y":0},{"p":15,"l":2,"x":2000,"y":0},{"p":15,"l":2,"x":2020,"y":2},{"p":15,"l":2,"x":2040,"y":15},{"p":15,"l":2,"x":2060,"y":33},{"p":15,"l":2,"x":2080,"y":35},{"p":15,"l":2,"x":2100,"y":34},
{"p":15,"l":3,"x":1980,"y":0},{"p":15,"l":3,"x":2000,"y":-3},{"p":15,"l":3,"x":2020,"y":0},{"p":15,"l":3,"x":2040,"y":10},{"p":15,"l":3,"x":2060,"y":25},{"p":15,"l":3,"x":2080,"y":32},{"p":15,"l":3,"x":2100,"y":28},
{"p":15,"l":4,"x":1980,"y":0},{"p":15,"l":4,"x":2000,"y":0},{"p":15,"l":4,"x":2020,"y":3},{"p":15,"l":4,"x":2040,"y":8},{"p":15,"l":4,"x":2060,"y":20},{"p":15,"l":4,"x":2080,"y":22},{"p":15,"l":4,"x":2100,"y":19},
{"p":15,"l":5,"x":1980,"y":0},{"p":15,"l":5,"x":2000,"y":0},{"p":15,"l":5,"x":2020,"y":0},{"p":15,"l":5,"x":2040,"y":5},{"p":15,"l":5,"x":2060,"y":12},{"p":15,"l":5,"x":2080,"y":16},{"p":15,"l":5,"x":2100,"y":11},
{"p":15,"l":6,"x":1980,"y":-3},{"p":15,"l":6,"x":2000,"y":0},{"p":15,"l":6,"x":2020,"y":2},{"p":15,"l":6,"x":2040,"y":6},{"p":15,"l":6,"x":2060,"y":15},{"p":15,"l":6,"x":2080,"y":10},{"p":15,"l":6,"x":2100,"y":12},
{"p":15,"l":7,"x":1980,"y":0},{"p":15,"l":7,"x":2000,"y":0},{"p":15,"l":7,"x":2020,"y":5},{"p":15,"l":7,"x":2040,"y":10},{"p":15,"l":7,"x":2060,"y":8},{"p":15,"l":7,"x":2080,"y":5},{"p":15,"l":7,"x":2100,"y":3},
{"p":15,"l":8,"x":1980,"y":0},{"p":15,"l":8,"x":2000,"y":-2},{"p":15,"l":8,"x":2020,"y":0},{"p":15,"l":8,"x":2040,"y":3},{"p":15,"l":8,"x":2060,"y":5},{"p":15,"l":8,"x":2080,"y":3},{"p":15,"l":8,"x":2100,"y":6},
{"p":15,"l":9,"x":1980,"y":0},{"p":15,"l":9,"x":2000,"y":0},{"p":15,"l":9,"x":2020,"y":-2},{"p":15,"l":9,"x":2040,"y":0},{"p":15,"l":9,"x":2060,"y":2},{"p":15,"l":9,"x":2080,"y":0},{"p":15,"l":9,"x":2100,"y":1},
{"p":15,"l":10,"x":1980,"y":0},{"p":15,"l":10,"x":2000,"y":0},{"p":15,"l":10,"x":2020,"y":1},{"p":15,"l":10,"x":2040,"y":4},{"p":15,"l":10,"x":2060,"y":12},{"p":15,"l":10,"x":2080,"y":18},{"p":15,"l":10,"x":2100,"y":15}
]
},
"data": {"name": "pts"},
"transform": [{"lookup": "p", "from": {"data": {"name": "panels"}, "key": "p", "fields": ["n", "kw"]}}],
"facet": {"field": "n", "type": "nominal", "title": null,
  "sort": ["US-Canada","Central US","Inner Mongolia","Japan","Scandinavia-Finland","Patagonia","UK","Mediterranean","India","Mexico-Caribbean","W. Africa","S. Africa","E. Brazil","N. Australia","E. Australia"],
  "header": {"labelFont": "Open Sans", "labelFontSize": 11, "labelColor": "#333", "labelPadding": 3}},
"columns": 5,
"bounds": "flush",
"spacing": {"row": 36, "column": 47},
"resolve": {"axis": {"x": "independent", "y": "independent"}},
"spec": {
  "width": 80,
  "height": 70,
  "layer": [
    {"mark": {"type": "line", "interpolate": "monotone", "clip": true, "opacity": 0.8},
     "encoding": {
       "x": {"field": "x", "type": "quantitative", "scale": {"domain": [1980, 2100], "nice": false, "zero": false},
             "axis": {"tickCount": 3, "format": "d", "title": null}},
       "y": {"field": "y", "type": "quantitative", "scale": {"domain": [-40, 40], "nice": false},
             "axis": {"tickCount": 4, "title": "%"}},
       "detail": {"field": "l"},
       "color": {"field": "n", "type": "nominal", "legend": null,
         "scale": {"domain": ["US-Canada","Central US","Inner Mongolia","Japan","Scandinavia-Finland","Patagonia","UK","Mediterranean","India","Mexico-Caribbean","W. Africa","S. Africa","E. Brazil","N. Australia","E. Australia"],
                   "range": ["#2a2aff","#2a2aff","#ff44e0","#ff22d4","#33ea33","#ff2222","#33ea33","#33ea33","#ff22d4","#1a1aee","#33eaea","#33eaea","#ff1a1a","#ff8022","#ff7a10"]}},
       "strokeDash": {"field": "n", "type": "nominal", "legend": null,
         "scale": {"domain": ["US-Canada","Central US","Inner Mongolia","Japan","Scandinavia-Finland","Patagonia","UK","Mediterranean","India","Mexico-Caribbean","W. Africa","S. Africa","E. Brazil","N. Australia","E. Australia"],
                   "range": [[1,0],[6,4],[6,4],[1,0],[1,0],[6,4],[6,4],[1,0],[1,0],[1,0],[1,0],[6,4],[1,0],[1,0],[1,0]]}},
       "strokeWidth": {"field": "n", "type": "nominal", "legend": null,
         "scale": {"domain": ["US-Canada","Central US","Inner Mongolia","Japan","Scandinavia-Finland","Patagonia","UK","Mediterranean","India","Mexico-Caribbean","W. Africa","S. Africa","E. Brazil","N. Australia","E. Australia"],
                   "range": [1.1,1.3,1.2,1.3,1.1,1.4,1.8,1.8,1.1,2.2,1.1,1.5,1.1,1.1,2]}}
     }},
    {"transform": [{"filter": "datum.l == 1 && datum.x == 1980"}],
     "mark": {"type": "rule", "color": "#000", "strokeWidth": 1.5},
     "encoding": {"y": {"datum": 0}}},
    {"transform": [{"filter": "datum.l == 1 && datum.x == 1980"}],
     "mark": {"type": "text", "align": "left", "baseline": "middle", "font": "Open Sans", "fontSize": 8.5, "color": "#333"},
     "encoding": {"x": {"datum": 1984}, "y": {"datum": 32}, "text": {"field": "kw"}}},
    {"transform": [{"filter": "datum.p == 5 && datum.l == 1 && datum.x == 1980"}],
     "mark": {"type": "text", "align": "center", "baseline": "middle", "font": "DejaVu Sans", "fontWeight": "bold", "fontSize": 13, "lineHeight": 13.7, "lineBreak": "\n", "color": "#000", "clip": false},
     "encoding": {"x": {"datum": 2134}, "y": {"datum": 26}, "text": {"value": "F\na\nl\nl\ni\nn\ng"}}},
    {"transform": [{"filter": "datum.p == 15 && datum.l == 1 && datum.x == 1980"}],
     "mark": {"type": "text", "align": "center", "baseline": "middle", "font": "DejaVu Sans", "fontWeight": "bold", "fontSize": 13, "lineHeight": 13.7, "lineBreak": "\n", "color": "#000", "clip": false},
     "encoding": {"x": {"datum": 2134}, "y": {"datum": 37}, "text": {"value": "R\ni\ns\ni\nn\ng"}}}
  ]
},
"config": {
  "background": "#ffffff",
  "view": {"stroke": "#000", "strokeWidth": 1.3},
  "axis": {"labelFont": "Open Sans", "labelFontSize": 10, "labelColor": "#222", "domain": false, "grid": false,
           "tickColor": "#000", "tickSize": -3, "labelFlush": false, "labelOverlap": false, "labelPadding": 3,
           "titleFont": "Open Sans", "titleFontSize": 11, "titleFontWeight": "normal", "titleColor": "#333", "titlePadding": 3}
}
}
